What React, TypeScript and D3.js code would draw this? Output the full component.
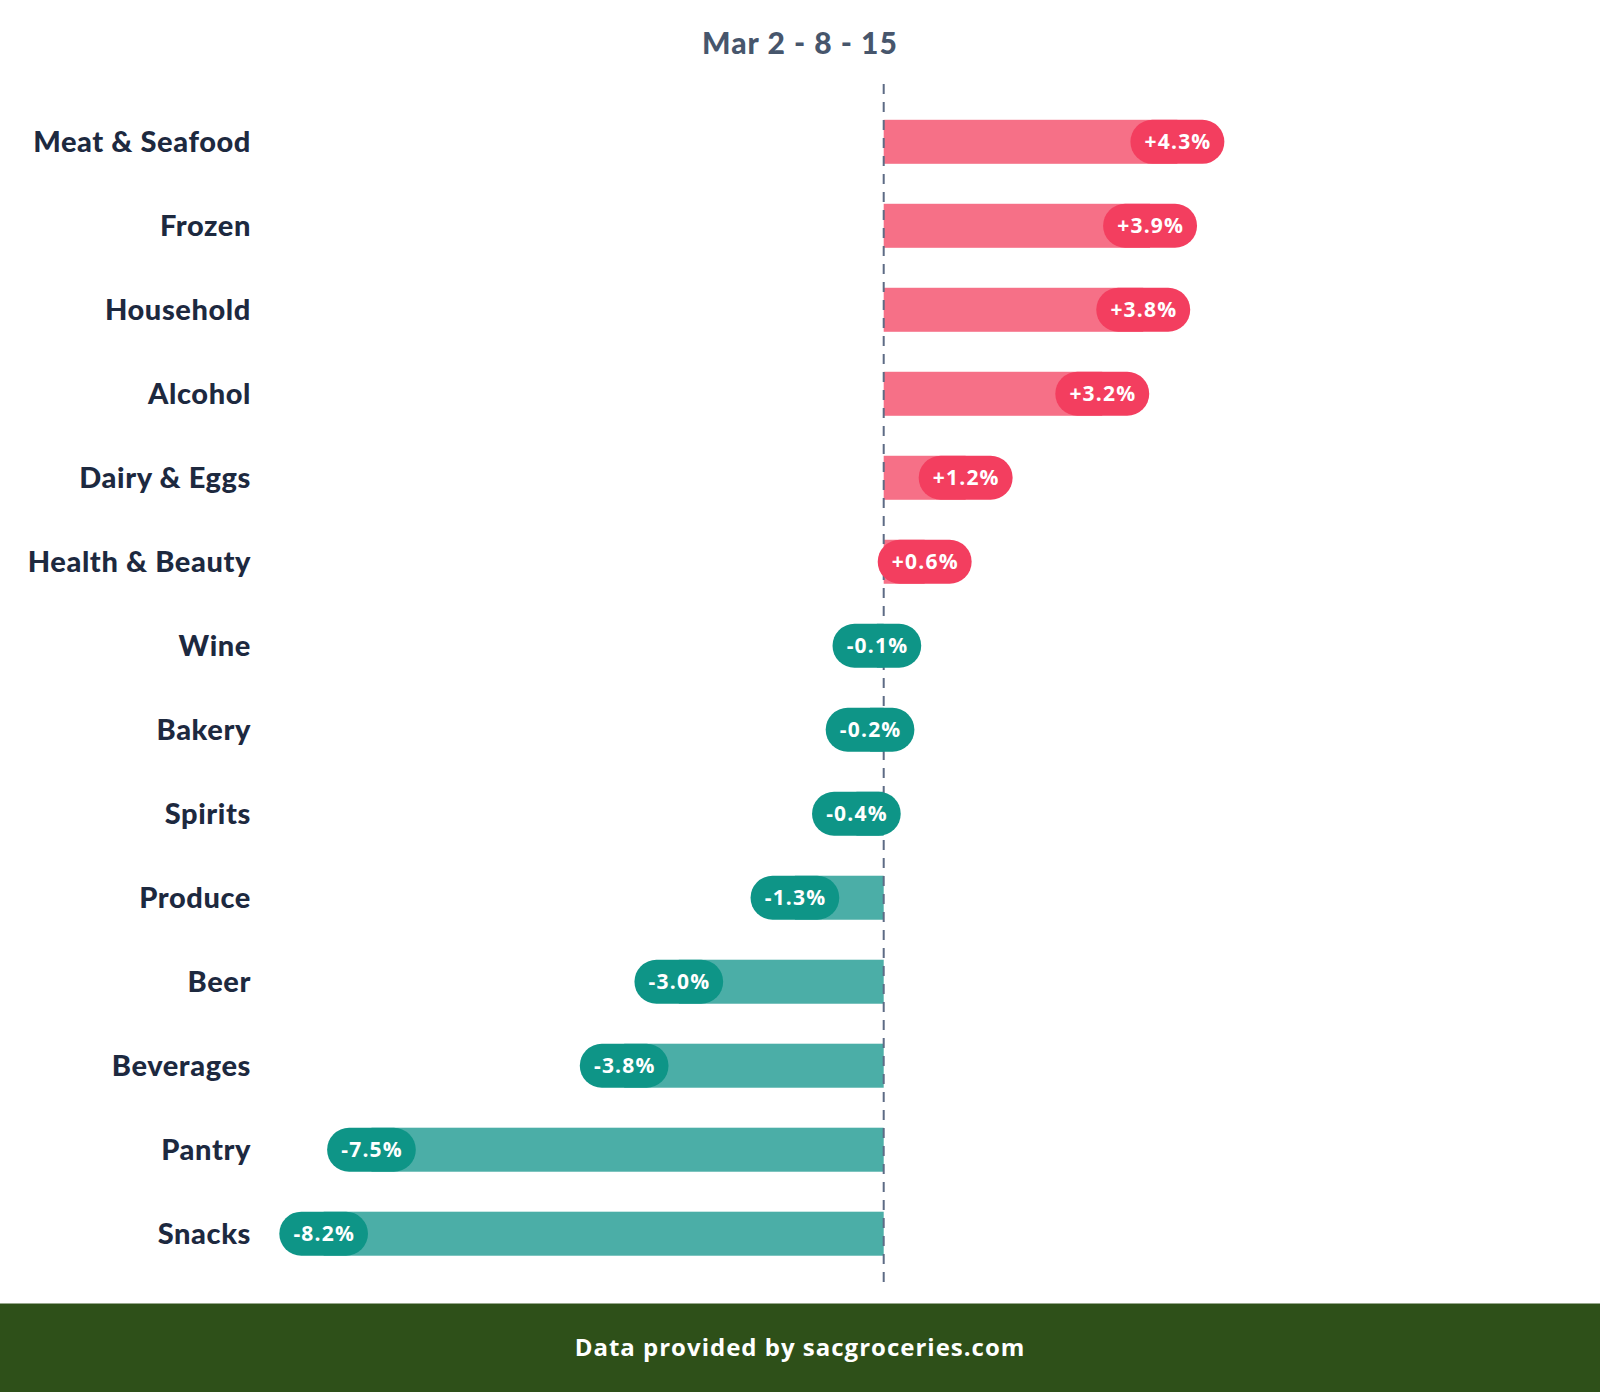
import { useRef, useEffect } from 'react'
import * as d3 from 'd3'

const WIDTH = 1600
const HEIGHT = 1392

const categories = [
  'Meat & Seafood',
  'Frozen',
  'Household',
  'Alcohol',
  'Dairy & Eggs',
  'Health & Beauty',
  'Wine',
  'Bakery',
  'Spirits',
  'Produce',
  'Beer',
  'Beverages',
  'Pantry',
  'Snacks',
]
const changes = [4.3, 3.9, 3.8, 3.2, 1.2, 0.6, -0.1, -0.2, -0.4, -1.3, -3.0, -3.8, -7.5, -8.2]

const TITLE = 'Mar 2 - 8 - 15'
const FOOTER = 'Data provided by sacgroceries.com'
const FONT = 'Lato, "Open Sans", sans-serif'
const WIDE_FONT = '"Open Sans", Lato, sans-serif'

const POS_BAR = '#f67087'
const POS_PILL = '#f33e5f'
const NEG_BAR = '#4baea7'
const NEG_PILL = '#0e9587'

export default function App() {
  const svgRef = useRef<SVGSVGElement>(null)

  useEffect(() => {
    if (!svgRef.current) return
    const svg = d3.select(svgRef.current)
    svg.selectAll('*').remove()

    const x = d3.scaleLinear().domain([-10, 10]).range([200.7, 1566.7])
    const y = d3
      .scaleBand<string>()
      .domain(categories)
      .range([99.8, 1275.7])
      .paddingInner(0.476)
      .paddingOuter(0.238)
    const bw = y.bandwidth()
    // plain hyphen for negatives, like the original
    const fmt = (v: number) => (v > 0 ? '+' : v < 0 ? '-' : '') + Math.abs(v).toFixed(1) + '%'

    svg.append('rect').attr('width', WIDTH).attr('height', HEIGHT).attr('fill', '#fff')

    // title
    svg
      .append('text')
      .attr('x', 800)
      .attr('y', 54)
      .attr('text-anchor', 'middle')
      .attr('font-family', FONT)
      .attr('font-weight', 900)
      .attr('font-size', 30)
      .attr('letter-spacing', 1)
      .attr('fill', '#47566c')
      .text(TITLE)

    // category labels
    svg
      .append('g')
      .selectAll('text')
      .data(categories)
      .enter()
      .append('text')
      .attr('x', 251)
      .attr('y', (d) => (y(d) ?? 0) + bw / 2)
      .attr('dy', '0.36em')
      .attr('text-anchor', 'end')
      .attr('font-family', FONT)
      .attr('font-weight', 900)
      .attr('font-size', 29)
      .attr('letter-spacing', 0.6)
      .attr('fill', '#1d293f')
      .text((d) => d)

    const rows = categories.map((c, i) => ({ cat: c, v: changes[i] }))

    // bars from zero to value
    svg
      .append('g')
      .selectAll('rect')
      .data(rows)
      .enter()
      .append('rect')
      .attr('x', (d) => Math.min(x(0), x(d.v)))
      .attr('y', (d) => y(d.cat) ?? 0)
      .attr('width', (d) => Math.abs(x(d.v) - x(0)))
      .attr('height', bw)
      .attr('fill', (d) => (d.v >= 0 ? POS_BAR : NEG_BAR))

    // zero line
    svg
      .append('line')
      .attr('x1', x(0))
      .attr('x2', x(0))
      .attr('y1', 84)
      .attr('y2', 1282)
      .attr('stroke', '#5d6b85')
      .attr('stroke-width', 2)
      .attr('stroke-dasharray', '10,8')

    // value pills centred on the value
    const pills = svg
      .append('g')
      .selectAll('g')
      .data(rows)
      .enter()
      .append('g')
      .attr('transform', (d) => `translate(${x(d.v)},${(y(d.cat) ?? 0) + bw / 2})`)

    const bg = pills.append('rect').attr('fill', (d) => (d.v >= 0 ? POS_PILL : NEG_PILL))

    const labels = pills
      .append('text')
      .attr('dy', '0.36em')
      .attr('font-family', WIDE_FONT)
      .attr('font-weight', 700)
      .attr('font-size', 21)
      .attr('letter-spacing', 1.2)
      .attr('fill', '#fff')
      .text((d) => fmt(d.v))

    const textW = labels.nodes().map((n) => (n as SVGTextElement).getComputedTextLength())
    labels.attr('x', (_, i) => -(textW[i] - 1.2) / 2)
    bg.each(function (_, i) {
      const w = textW[i] + 27
      d3.select(this)
        .attr('x', -w / 2)
        .attr('y', -bw / 2)
        .attr('width', w)
        .attr('height', bw)
        .attr('rx', bw / 2)
    })

    // footer
    svg
      .append('rect')
      .attr('x', 0)
      .attr('y', 1303.5)
      .attr('width', WIDTH)
      .attr('height', HEIGHT - 1303.5)
      .attr('fill', '#2e5019')
    svg
      .append('text')
      .attr('x', 800)
      .attr('y', 1356)
      .attr('text-anchor', 'middle')
      .attr('font-family', WIDE_FONT)
      .attr('font-weight', 700)
      .attr('font-size', 24)
      .attr('letter-spacing', 1)
      .attr('fill', '#fff')
      .text(FOOTER)
  }, [])

  return (
    <div style={{ position: 'absolute', left: 0, top: 0 }}>
      <svg ref={svgRef} width={WIDTH} height={HEIGHT} style={{ display: 'block' }} />
    </div>
  )
}
